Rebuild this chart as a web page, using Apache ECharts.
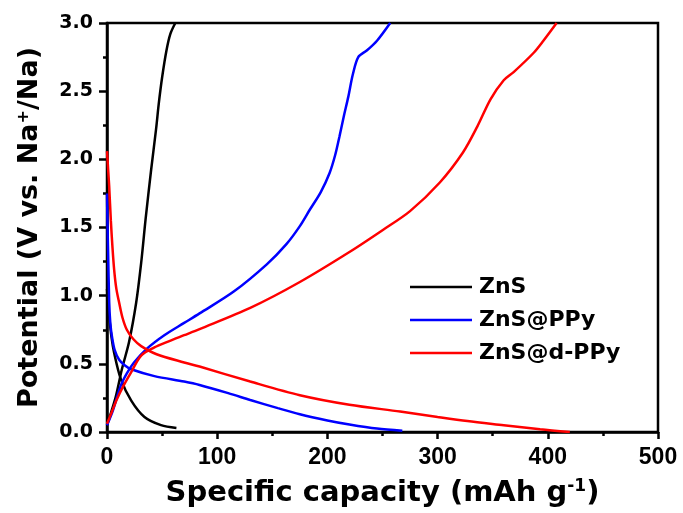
<!DOCTYPE html>
<html>
<head>
<meta charset="utf-8">
<script src="https://cdn.jsdelivr.net/npm/echarts@6/dist/echarts.min.js"></script>
<style>
	html, body { margin: 0; padding: 0; background: #fff; }
	#chart { width: 683px; height: 513px; }
</style>
</head>
<body>
<div id="chart"></div>
<script>
	// 图例名称
	var names = ['ZnS', 'ZnS@PPy', 'ZnS@d-PPy'];
	var colors = ['#000000', '#0000ff', '#ff0000'];

	// ZnS 放电 / 充电  [容量, 电位]
	var znsDischarge = [[0,1.05],[2,0.85],[4,0.7],[6.5,0.58],[12.5,0.39],[22,0.23],[34,0.11],[49,0.05],[63,0.03]];
	var znsCharge = [[0,0.05],[2,0.1],[8,0.26],[13.5,0.46],[20,0.66],[26.5,0.95],[31,1.24],[35,1.56],[40,1.92],[44.5,2.22],[47,2.41],[50,2.6],[54,2.8],[57.5,2.92],[62,3.0]];

	// ZnS@PPy
	var ppyDischarge = [[0,1.75],[0.5,1.5],[1,1.32],[2,0.95],[3,0.8],[4.5,0.7],[7,0.6],[11,0.53],[16,0.49],[22,0.46],[43,0.41],[70,0.37],[84,0.345],[110,0.285],[130,0.235],[155,0.175],[175,0.13],[200,0.085],[220,0.055],[245,0.025],[268,0.01]];
	var ppyCharge = [[0,0.05],[5,0.15],[12.5,0.34],[18,0.43],[24.5,0.51],[36,0.61],[52,0.71],[70,0.8],[84,0.87],[115,1.03],[145,1.23],[163,1.38],[175,1.51],[184,1.63],[194,1.76],[202,1.9],[207,2.03],[211,2.17],[215,2.32],[219,2.46],[223,2.62],[228,2.75],[236,2.8],[245,2.87],[257,3.0]];

	// ZnS@d-PPy
	var dppyDischarge = [[0,2.06],[1,1.93],[2,1.8],[3.5,1.55],[5,1.35],[6.5,1.19],[8.5,1.05],[11,0.95],[14,0.84],[18,0.75],[24,0.68],[31,0.63],[45,0.57],[70,0.51],[84,0.48],[130,0.37],[175,0.27],[220,0.2],[266,0.15],[300,0.11],[327,0.08],[360,0.05],[393,0.02],[420,0.0]];
	var dppyCharge = [[0,0.06],[4,0.14],[9,0.24],[15,0.34],[22,0.44],[31,0.56],[43,0.62],[56,0.665],[70,0.71],[84,0.755],[130,0.91],[175,1.1],[220,1.32],[250,1.48],[275,1.62],[302,1.83],[323,2.05],[336,2.24],[348,2.44],[360,2.58],[369,2.64],[387,2.78],[396,2.87],[408,3.0]];

	var curves = [
		[znsDischarge, znsCharge],
		[ppyDischarge, ppyCharge],
		[dppyDischarge, dppyCharge]
	];

	var font = '"DejaVu Sans", sans-serif';
	var font2 = '"Liberation Sans", Arial, sans-serif';

	var series = [];
	curves.forEach(function(pair, i){
		pair.forEach(function(d){
			series.push({
				name: names[i],
				type: 'line',
				data: d,
				smooth: 0.3,
				symbol: 'none',
				lineStyle: { color: colors[i], width: 2.5 },
				itemStyle: { color: colors[i] },
				z: 3 + i
			});
		});
	});

	var chart = echarts.init(document.getElementById('chart'));
	chart.setOption({
		animation: false,
		backgroundColor: '#fff',
		grid: {
			left: 107, right: 25, top: 23, bottom: 80,
			show: true, borderColor: '#000', borderWidth: 2.5
		},
		legend: {
			orient: 'vertical',
			left: 405, top: 271,
			icon: 'rect',
			itemWidth: 62, itemHeight: 2.5, itemGap: 11,
			data: names,
			textStyle: { fontFamily: font, fontWeight: 'bold', fontSize: 22, color: '#000', padding: [0, 0, 0, 2] }
		},
		xAxis: {
			type: 'value',
			min: 0, max: 500, interval: 100,
			name: 'Specific capacity (mAh g{sup|-1})',
			nameLocation: 'middle',
			nameGap: 46,
			nameTextStyle: {
				fontFamily: font, fontWeight: 'bold', fontSize: 29, color: '#000',
				rich: { sup: { fontFamily: font, fontWeight: 'bold', fontSize: 17, color: '#000', verticalAlign: 'top', padding: [0, 0, 14, 0] } }
			},
			axisLine: { lineStyle: { color: '#000', width: 2.5 } },
			axisTick: { inside: false, length: 7, lineStyle: { color: '#000', width: 2.5 } },
			minorTick: { show: true, splitNumber: 2, length: 4, lineStyle: { color: '#000', width: 2.5 } },
			splitLine: { show: false },
			axisLabel: { fontFamily: font2, fontWeight: 'bold', fontSize: 23, color: '#000', margin: 14 }
		},
		yAxis: {
			type: 'value',
			min: 0, max: 3, interval: 0.5,
			name: 'Potential (V vs. Na{sup|+}/Na)',
			nameLocation: 'middle',
			nameGap: 63,
			nameTextStyle: {
				fontFamily: font, fontWeight: 'bold', fontSize: 27, color: '#000',
				rich: { sup: { fontFamily: font, fontWeight: 'bold', fontSize: 16, color: '#000', verticalAlign: 'top', padding: [0, 0, 12, 0] } }
			},
			axisLine: { lineStyle: { color: '#000', width: 2.5 } },
			axisTick: { inside: false, length: 8, lineStyle: { color: '#000', width: 2.5 } },
			minorTick: { show: true, splitNumber: 2, length: 4, lineStyle: { color: '#000', width: 2.5 } },
			splitLine: { show: false },
			axisLabel: {
				fontFamily: font, fontWeight: 'bold', fontSize: 19, color: '#000', margin: 14,
				formatter: function(v){ return v.toFixed(1); }
			}
		},
		series: series
	});
</script>
</body>
</html>
